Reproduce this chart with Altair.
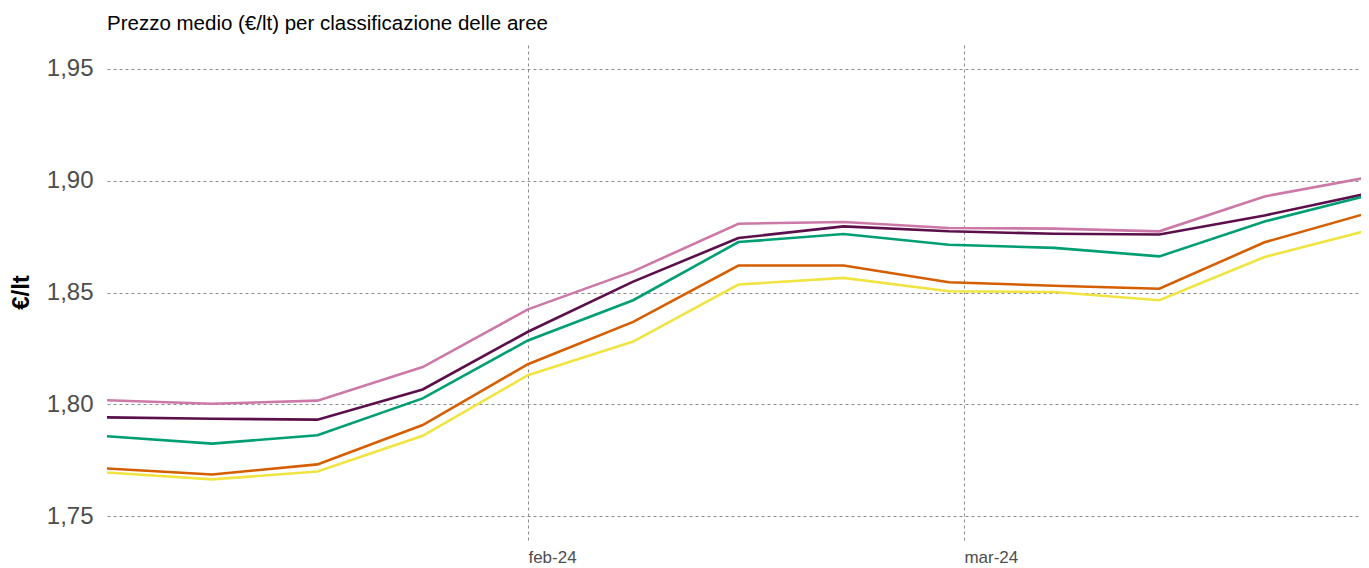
import altair as alt
import pandas as pd

dates = ["2024-01-04", "2024-01-11", "2024-01-18", "2024-01-25", "2024-02-01",
         "2024-02-08", "2024-02-15", "2024-02-22", "2024-02-29", "2024-03-07",
         "2024-03-14", "2024-03-21", "2024-03-28"]

series_names = ["Polo", "Cintura", "Intermedio", "Periferico", "Ultraperiferico"]
series_colors = ["#CC79A7", "#5B0F4B", "#009E73", "#D55E00", "#F0E442"]

polo = [1.8019, 1.8003, 1.8017, 1.8167, 1.8425, 1.8595, 1.8808, 1.8816, 1.8789, 1.8786, 1.8774, 1.8930, 1.9017]
cintura = [1.7942, 1.7936, 1.7932, 1.8067, 1.8325, 1.8549, 1.8744, 1.8796, 1.8774, 1.8763, 1.8760, 1.8845, 1.8945]
intermedio = [1.7858, 1.7825, 1.7862, 1.8027, 1.8286, 1.8466, 1.8726, 1.8762, 1.8714, 1.8700, 1.8662, 1.8818, 1.8937]
periferico = [1.7714, 1.7687, 1.7732, 1.7908, 1.8180, 1.8369, 1.8621, 1.8621, 1.8546, 1.8531, 1.8517, 1.8725, 1.8858]
ultraperiferico = [1.7696, 1.7665, 1.7700, 1.7860, 1.8131, 1.8281, 1.8536, 1.8566, 1.8506, 1.8503, 1.8466, 1.8659, 1.8781]

y_ticks = [1.75, 1.80, 1.85, 1.90, 1.95]
x_tick_labels = ["feb-24", "mar-24"]

values = [polo, cintura, intermedio, periferico, ultraperiferico]
rows = []
for name, vals in zip(series_names, values):
    for d, v in zip(dates, vals):
        rows.append({"data": d + "T00:00:00", "area": name, "prezzo": v})
df = pd.DataFrame(rows)

font = "Liberation Sans"

chart = alt.Chart(df).mark_line(strokeWidth=2.6, clip=True).encode(
    x=alt.X(
        "data:T",
        scale=alt.Scale(domain=[alt.DateTime(year=2024, month=1, date=4),
                                alt.DateTime(year=2024, month=3, date=27, hours=10)]),
        axis=alt.Axis(
            title=None,
            values=[alt.DateTime(year=2024, month=2, date=1),
                    alt.DateTime(year=2024, month=3, date=1)],
            labelExpr="month(datum.value) == 1 ? '" + x_tick_labels[0] + "' : '" + x_tick_labels[1] + "'",
            labelAlign="left",
            labelBaseline="alphabetic",
            labelFontSize=17,
            labelColor="#4D4D4D",
            labelFont=font,
            labelPadding=22,
            domain=False,
            ticks=False,
            grid=True,
            gridDash=[3, 3],
            gridColor="#8C8C8C",
            gridWidth=1,
        ),
    ),
    y=alt.Y(
        "prezzo:Q",
        scale=alt.Scale(domain=[1.7394, 1.9607], nice=False, zero=False),
        axis=alt.Axis(
            title="€/lt",
            titleFontSize=24,
            titleFont=font,
            titleFontWeight="bold",
            titleColor="#000000",
            titleAngle=-90,
            titleAlign="center",
            titleBaseline="alphabetic",
            titleX=-79,
            titleY=247,
            values=y_ticks,
            labelExpr="replace(format(datum.value, '.2f'), '.', ',')",
            labelFontSize=24,
            labelColor="#4D4D4D",
            labelFont=font,
            labelPadding=14,
            domain=False,
            ticks=False,
            grid=True,
            gridDash=[3, 3],
            gridColor="#8C8C8C",
            gridWidth=1,
        ),
    ),
    color=alt.Color("area:N", scale=alt.Scale(domain=series_names, range=series_colors), legend=None),
).properties(
    width=1254,
    height=495,
    title=alt.TitleParams(
        "Prezzo medio (€/lt) per classificazione delle aree",
        anchor="start",
        frame="group",
        baseline="alphabetic",
        fontSize=20.5,
        font=font,
        fontWeight="normal",
        color="#000000",
        offset=15,
        dy=20,
    ),
    autosize=alt.AutoSizeParams(type="none"),
    padding={"left": 99, "top": 37, "right": 0, "bottom": 26},
).configure(background="white").configure_view(stroke=None, strokeWidth=0)

chart.save("out.html", embed_options={"renderer": "svg", "actions": False})
